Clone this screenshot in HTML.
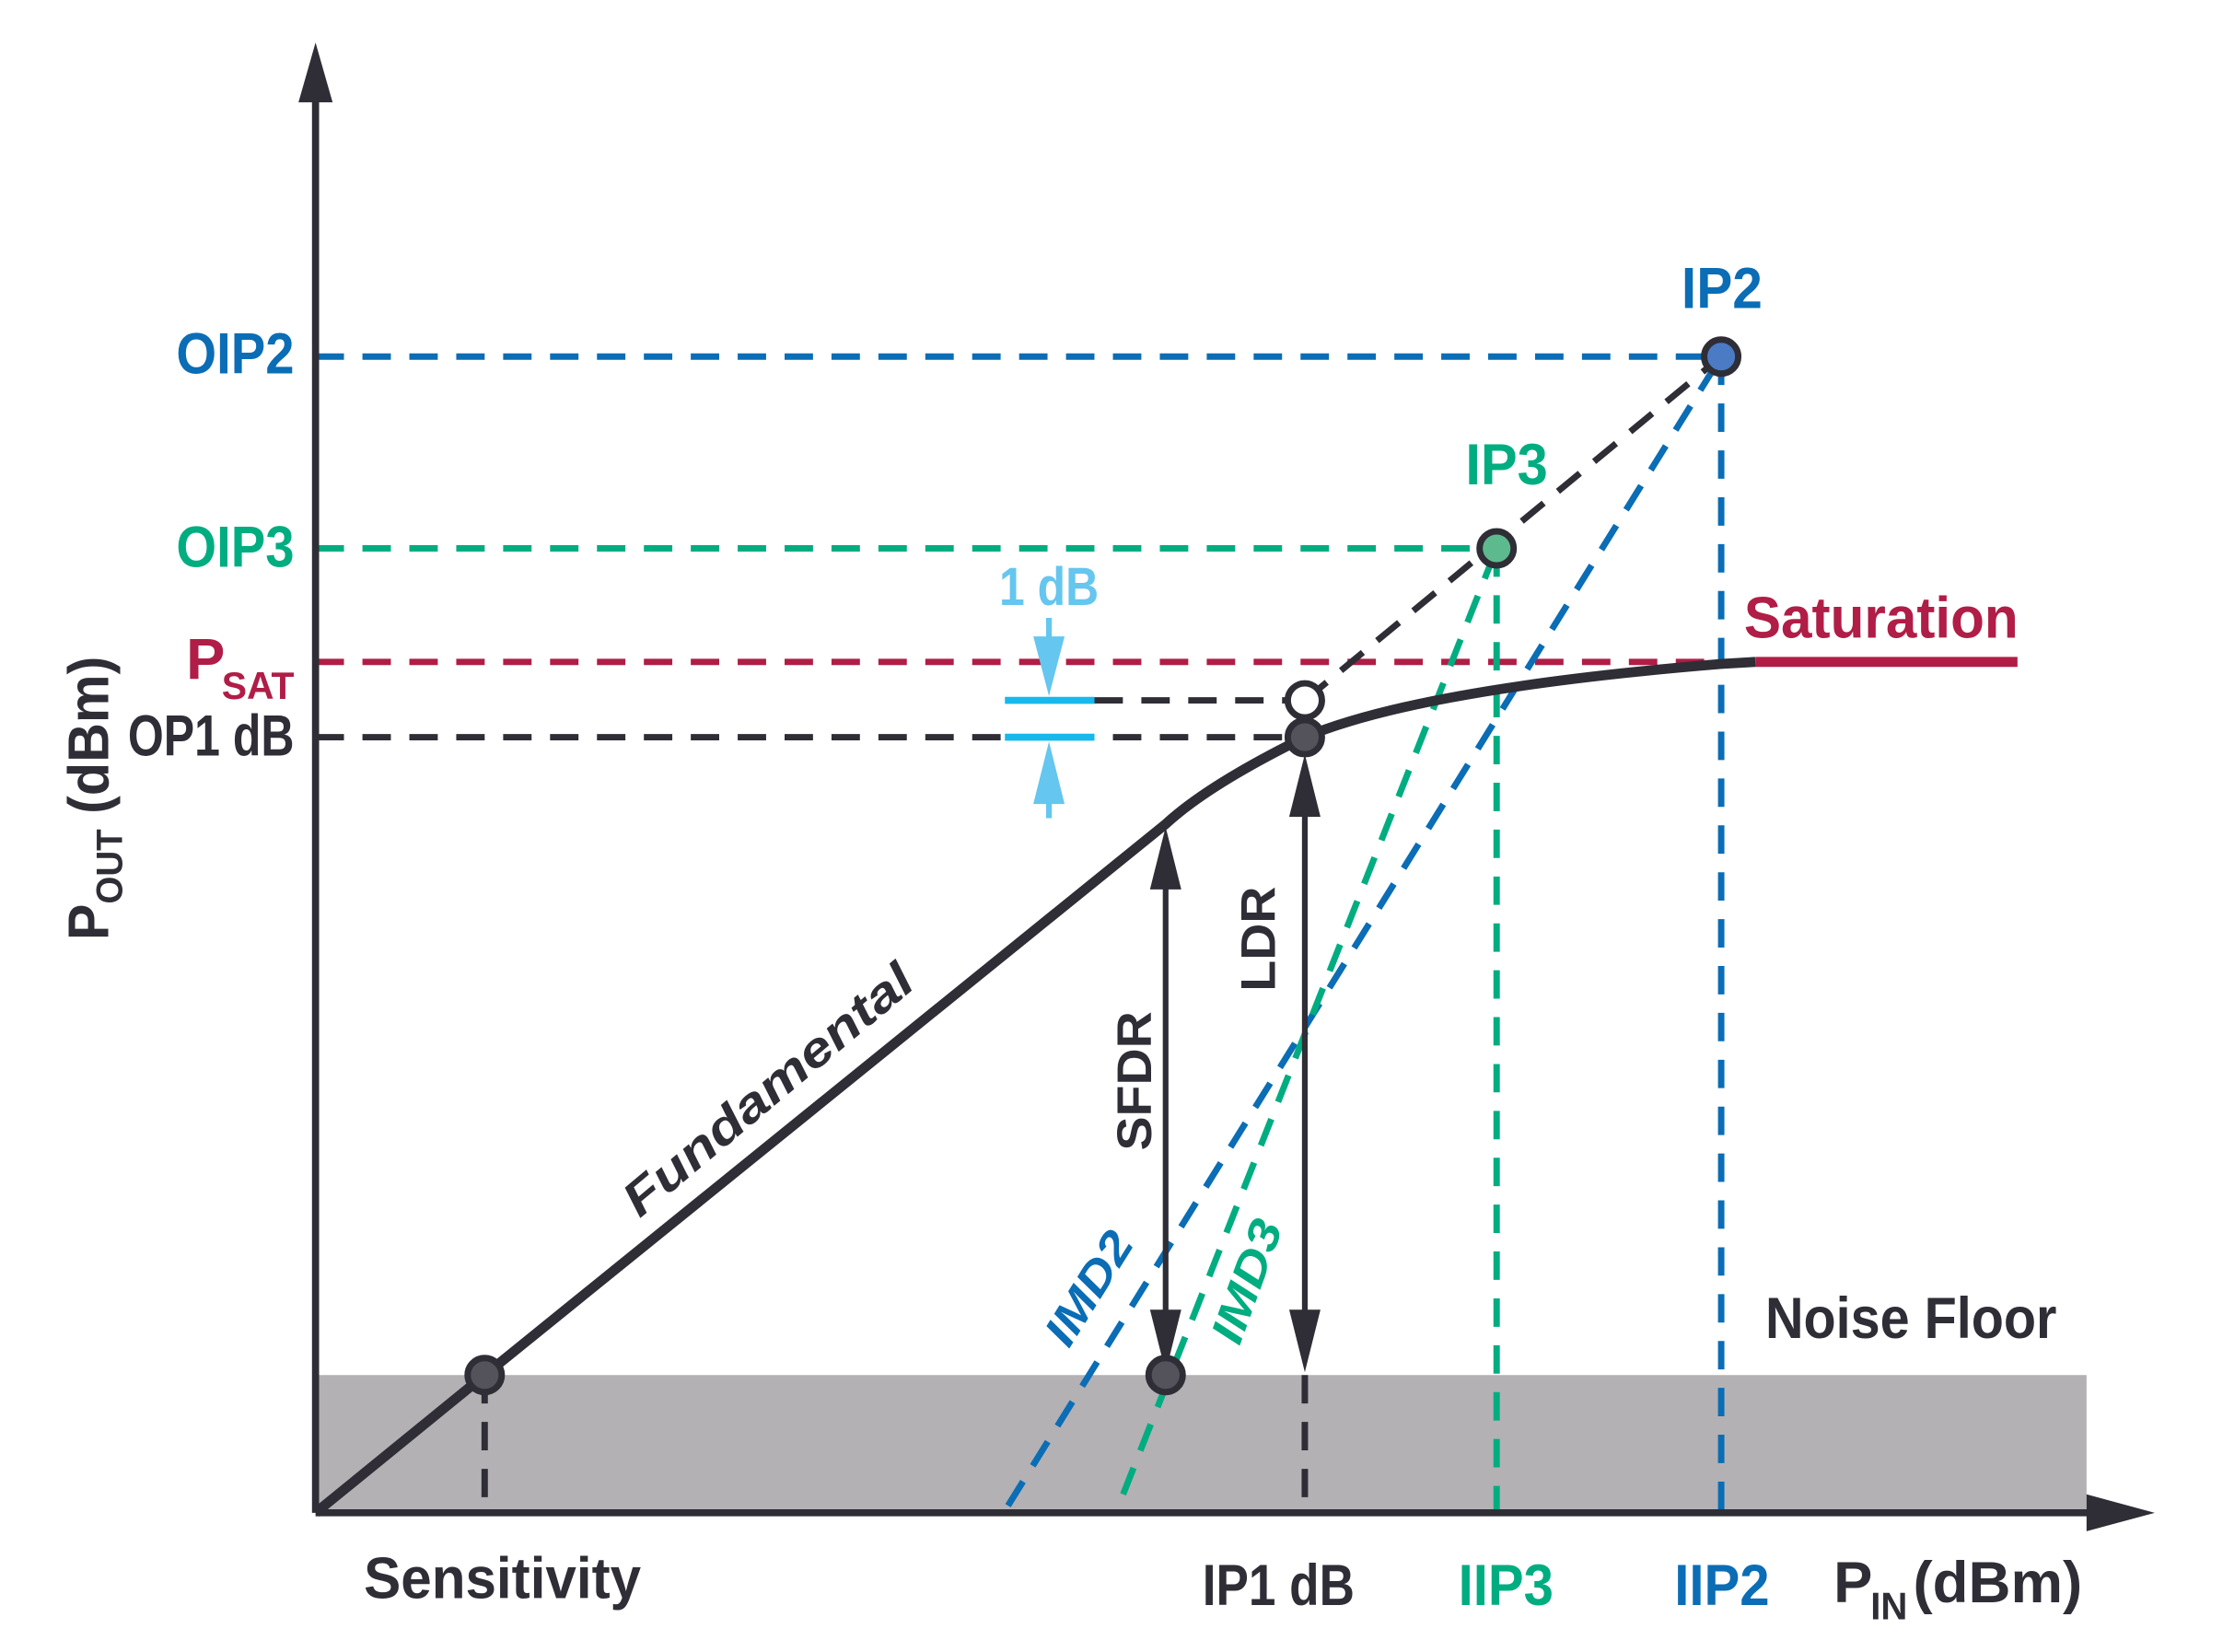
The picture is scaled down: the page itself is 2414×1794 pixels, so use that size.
<!DOCTYPE html>
<html><head><meta charset="utf-8">
<style>
html,body{margin:0;padding:0;background:#fff;}
svg{display:block;}
text{font-family:"Liberation Sans",sans-serif;font-weight:bold;}
</style></head>
<body>
<svg id="chart" width="2414" height="1794" viewBox="0 0 1564 1163" preserveAspectRatio="none" xmlns="http://www.w3.org/2000/svg"></svg>
<script>
// ---- data (abstract units; x: input power 0..100, y: output power 0..100) ----
const keyPointNames = ["sensitivity","imd-floor","ip1db","iip3","iip2"];
const keyPointX = [9.55, 48.0, 55.86, 66.69, 79.37];
const levelNames = ["noise-floor","op1db","op1db-linear","psat","oip3","oip2"];
const levelY = [9.46, 53.27, 55.8, 58.44, 66.24, 79.41];
const fundX = [0, 9.55, 48.0, 50.4, 55.86, 62.4, 79.37, 81.3, 96.1];
const fundY = [0, 9.46, 47.3, 50.0, 53.27, 56.6, 58.3, 58.44, 58.44];
const imd2Start = [39.1, 0.49];
const imd3Start = [45.6, 1.27];

// ---- axes ----
const X0=222, X1=1468, Y0=1065, Y1=40;
function sx(v){return X0 + v/100*(X1-X0);}
function sy(v){return Y0 - v/100*(Y0-Y1);}

const svg=document.getElementById('chart');
const NS="http://www.w3.org/2000/svg";
function mk(tag,attrs,parent){const e=document.createElementNS(NS,tag);for(const k in attrs)e.setAttribute(k,attrs[k]);(parent||svg).appendChild(e);return e;}

const C={dark:"#2f2d35",blue:"#0a6db5",green:"#00ad80",red:"#b01d46",cyan:"#18b8ea",lcyan:"#65c6ef",gray:"#b3b1b4"};
const dash="20 13";
const DW=4.5;

let el=mk('rect',{x:X0,y:sy(levelY[0]),width:X1-X0,height:Y0-sy(levelY[0]),fill:C.gray});



function line(x1,y1,x2,y2,col,w,d,name){const e=mk('line',{x1,y1,x2,y2,stroke:col,'stroke-width':w});if(d)e.setAttribute('stroke-dasharray',d);


return e;}

line(X0,sy(levelY[5]),sx(keyPointX[4]),sy(levelY[5]),C.blue,DW,dash,'oip2-guide');
line(X0,sy(levelY[4]),sx(keyPointX[3]),sy(levelY[4]),C.green,DW,dash,'oip3-guide');
line(X0,sy(levelY[3]),sx(fundX[7]),sy(levelY[3]),C.red,DW,dash,'psat-guide');
line(X0,sy(levelY[1]),sx(keyPointX[2]),sy(levelY[1]),C.dark,DW,dash,'op1db-guide');
line(770,sy(levelY[2]),sx(keyPointX[2]),sy(levelY[2]),C.dark,DW,dash,'linear-1db-guide');
line(sx(keyPointX[4]),sy(levelY[5]),sx(keyPointX[4]),Y0,C.blue,DW,dash,'iip2-guide');
line(sx(keyPointX[3]),sy(levelY[4]),sx(keyPointX[3]),Y0,C.green,DW,dash,'iip3-guide');
line(sx(keyPointX[2]),sy(levelY[0]),sx(keyPointX[2]),Y0,C.dark,DW,dash,'ip1db-guide');
line(sx(keyPointX[0]),sy(levelY[0]),sx(keyPointX[0]),Y0-6,C.dark,DW,dash,'sensitivity-guide');
line(sx(keyPointX[2]),sy(levelY[2]),sx(keyPointX[4]),sy(levelY[5]),C.dark,DW,dash,'linear-extrapolation');
line(sx(imd2Start[0]),sy(imd2Start[1]),sx(keyPointX[4]),sy(levelY[5]),C.blue,DW,dash,'imd2-line');
line(sx(imd3Start[0]),sy(imd3Start[1]),sx(keyPointX[3]),sy(levelY[4]),C.green,DW,dash,'imd3-line');

let d="M"+sx(fundX[0])+","+sy(fundY[0])+" L"+sx(fundX[1])+","+sy(fundY[1])+" L"+sx(fundX[2])+","+sy(fundY[2]);
d+=" Q"+sx(fundX[3])+","+sy(fundY[3])+" "+sx(fundX[4])+","+sy(fundY[4]);
d+=" Q"+sx(fundX[5])+","+sy(fundY[5])+" "+sx(fundX[6])+","+sy(fundY[6]);
d+=" L"+sx(fundX[7])+","+sy(fundY[7]);
el=mk('path',{d,fill:"none",stroke:C.dark,'stroke-width':7,'stroke-linejoin':'round'});


line(sx(fundX[7]),sy(fundY[7]),sx(fundX[8]),sy(fundY[8]),C.red,7,null,'saturation-line');

line(X0,Y0,X0,70,C.dark,5,null,'y-axis');
line(X0,Y0,1480,Y0,C.dark,5,null,'x-axis');
el=mk('polygon',{points:`${X0-12},72 ${X0},30 ${X0+12},72`,fill:C.dark});


el=mk('polygon',{points:`1468,${Y0-13} 1516,${Y0} 1468,${Y0+13}`,fill:C.dark});



function darrow(x,ya,yb,name,col,w){
  line(x,ya+30,x,yb-30,col,w,null,name);
  let e=mk('polygon',{points:`${x-11},${ya+46} ${x},${ya+2} ${x+11},${ya+46}`,fill:col});
  
  
  e=mk('polygon',{points:`${x-11},${yb-46} ${x},${yb-2} ${x+11},${yb-46}`,fill:col});
  
  
}
darrow(sx(keyPointX[1]),sy(fundY[2]),sy(levelY[0]),'sfdr-arrow',C.dark,4);
darrow(sx(keyPointX[2]),sy(levelY[1])+10,sy(levelY[0]),'ldr-arrow',C.dark,4);

const cx1=738;
line(707,sy(levelY[2]),770,sy(levelY[2]),C.cyan,5,null,'one-db-line-top');
line(707,sy(levelY[1]),770,sy(levelY[1]),C.cyan,5,null,'one-db-line-bottom');
line(cx1,435,cx1,460,C.lcyan,4,null,'one-db-arrow-top-stem');
el=mk('polygon',{points:`${cx1-11},448 ${cx1},${sy(levelY[2])-3} ${cx1+11},448`,fill:C.lcyan});


line(cx1,550,cx1,576,C.lcyan,4,null,'one-db-arrow-bottom-stem');
el=mk('polygon',{points:`${cx1-11},566 ${cx1},${sy(levelY[1])+3} ${cx1+11},566`,fill:C.lcyan});



function pt(x,y,fill,name){const e=mk('circle',{cx:x,cy:y,r:12,fill,stroke:C.dark,'stroke-width':4.5});

}
pt(sx(keyPointX[0]),sy(levelY[0]),"#54525a",'sensitivity-point');
pt(sx(keyPointX[1]),sy(levelY[0]),"#54525a",'imd-floor-point');
pt(sx(keyPointX[2]),sy(levelY[2]),"#fff",'linear-1db-point');
pt(sx(keyPointX[2]),sy(levelY[1]),"#54525a",'p1db-point');
pt(sx(keyPointX[3]),sy(levelY[4]),"#5dba8f",'ip3-point');
pt(sx(keyPointX[4]),sy(levelY[5]),"#4a7bc4",'ip2-point');

function txt(s,x,y,col,size,anchor,name,len,rot,italic){const e=mk('text',{x,y,fill:col,'font-size':size,'text-anchor':anchor||'start'});
if(len){e.setAttribute('textLength',len);e.setAttribute('lengthAdjust','spacingAndGlyphs');}
if(rot)e.setAttribute('transform',`rotate(${rot} ${x} ${y})`);
if(italic)e.setAttribute('font-style','italic');
e.textContent=s;

return e;}
const FS=41;
txt("OIP2",124,263,C.blue,FS,'start','oip2-label',83);
txt("OIP3",124,399,C.green,FS,'start','oip3-label',83);
txt("OP1 dB",90,532,C.dark,FS,'start','op1db-label',117);
let ps=txt("P",131,478,C.red,FS,'start','psat-label');
const sub=document.createElementNS(NS,'tspan');sub.setAttribute('font-size',27);sub.setAttribute('x',156);sub.setAttribute('y',492);sub.setAttribute('textLength',51);sub.setAttribute('lengthAdjust','spacingAndGlyphs');sub.textContent="SAT";ps.appendChild(sub);
txt("IP2",1183,217,C.blue,FS,'start','ip2-label',57);
txt("IP3",1031,341,C.green,FS,'start','ip3-label',58);
txt("1 dB",703,426,C.lcyan,38,'start','one-db-label',70);
txt("Saturation",1227,449,C.red,FS,'start','saturation-label',193);
txt("Noise Floor",1242,942,C.dark,FS,'start','noise-floor-label',205);
txt("Sensitivity",256,1125,C.dark,FS,'start','sensitivity-label',195);
txt("IP1 dB",846,1130,C.dark,FS,'start','ip1db-label',107);
txt("IIP3",1026,1130,C.green,FS,'start','iip3-label',67);
txt("IIP2",1178,1130,C.blue,FS,'start','iip2-label',67);
let pin=txt("P",1290,1128,C.dark,FS,'start','x-axis-title');
let t1=document.createElementNS(NS,'tspan');t1.setAttribute('font-size',27);t1.setAttribute('x',1316);t1.setAttribute('y',1140);t1.setAttribute('textLength',26);t1.setAttribute('lengthAdjust','spacingAndGlyphs');t1.textContent="IN";pin.appendChild(t1);
let t2=document.createElementNS(NS,'tspan');t2.setAttribute('x',1346);t2.setAttribute('y',1128);t2.setAttribute('textLength',119);t2.setAttribute('lengthAdjust','spacingAndGlyphs');t2.textContent="(dBm)";pin.appendChild(t2);
let pout=txt("P",76,662,C.dark,40,'start','y-axis-title',200,-90);
pout.textContent="";
const pp=document.createElementNS(NS,'tspan');pp.textContent="P";pout.appendChild(pp);
let t3=document.createElementNS(NS,'tspan');t3.setAttribute('font-size',26);t3.setAttribute('dy',10);t3.textContent="OUT";pout.appendChild(t3);
let t4=document.createElementNS(NS,'tspan');t4.setAttribute('dy',-10);t4.textContent=" (dBm)";pout.appendChild(t4);
txt("Fundamental",450,858,C.dark,34,'start','fundamental-label',255,-40,true);
txt("SFDR",810,810,C.dark,34,'start','sfdr-label',98,-90);
txt("LDR",897,698,C.dark,34,'start','ldr-label',74,-90);
txt("IMD2",752,950,C.blue,32,'start','imd2-label',88,-58,true);
txt("IMD3",872,948,C.green,32,'start','imd3-label',90,-70,true);
</script>
</body></html>
